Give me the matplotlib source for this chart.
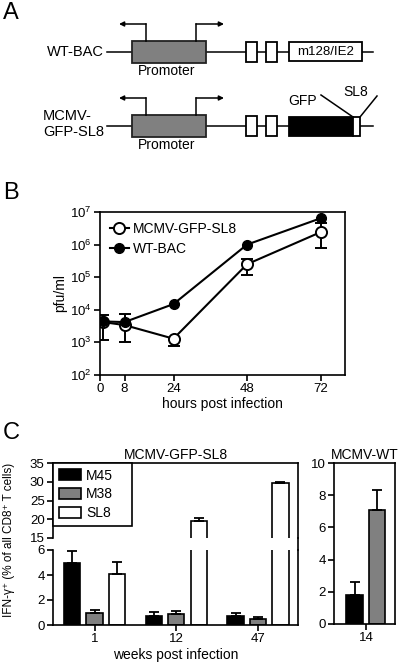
import matplotlib
matplotlib.use('Agg')
import matplotlib.pyplot as plt
from matplotlib.patches import Rectangle
from matplotlib.lines import Line2D
import numpy as np

plt.rcParams['font.family'] = ['Liberation Sans', 'DejaVu Sans']
plt.rcParams['font.size'] = 9.5
plt.rcParams['axes.linewidth'] = 1.2
plt.rcParams['xtick.major.width'] = 1.2
plt.rcParams['ytick.major.width'] = 1.2
plt.rcParams['xtick.major.size'] = 4
plt.rcParams['ytick.major.size'] = 4

# Panel B: virus growth (pfu/ml)
hours = [1, 8, 24, 48, 72]
hour_ticks = [0, 8, 24, 48, 72]
gfp_sl8 = [4.2e3, 3.4e3, 1.3e3, 2.5e5, 2.4e6]
gfp_sl8_lo = [1.2e3, 1.05e3, 8.0e2, 1.15e5, 7.8e5]
gfp_sl8_hi = [7.0e3, 7.6e3, 1.3e3, 3.7e5, 4.6e6]
wt_bac = [4.4e3, 4.2e3, 1.5e4, 1.0e6, 6.4e6]

# Panel C: IFN-gamma+ CD8 T cells
weeks = ['1', '12', '47']
m45 = [5.0, 0.75, 0.75]
m45_err = [0.9, 0.3, 0.25]
m38 = [1.0, 0.9, 0.5]
m38_err = [0.2, 0.25, 0.15]
sl8 = [4.1, 19.5, 29.6]
sl8_err = [0.95, 0.8, 0.4]

wt_weeks = ['14']
wt_m45 = [1.8]
wt_m45_err = [0.8]
wt_m38 = [7.1]
wt_m38_err = [1.2]

W, H = 400, 669
fig = plt.figure(figsize=(4, 6.69), dpi=100)


def pos(x0, y0, x1, y1):
    # pixel box -> figure fraction
    return [x0 / W, 1 - y1 / H, (x1 - x0) / W, (y1 - y0) / H]


# ---------- panel B ----------
axb = fig.add_axes(pos(100, 212, 345, 375))
axb.errorbar(hours, gfp_sl8,
             yerr=[np.array(gfp_sl8) - np.array(gfp_sl8_lo),
                   np.array(gfp_sl8_hi) - np.array(gfp_sl8)],
             color='black', lw=1.5, marker='o', ms=8, mfc='white', mec='black',
             mew=1.4, capsize=4.5, elinewidth=1.4, capthick=1.4, zorder=2)
axb.plot(hours, wt_bac, color='black', lw=1.5, marker='o', ms=7, zorder=3)
axb.set_yscale('log')
axb.set_ylim(1e2, 1e7)
axb.set_xlim(0, 80)
axb.set_xticks(hour_ticks)
axb.minorticks_off()
axb.set_ylabel('pfu/ml', fontsize=10, labelpad=2)
axb.set_xlabel('hours post infection', fontsize=10, labelpad=1)
axb.tick_params(labelsize=9.5, pad=2)
h_open = Line2D([], [], color='black', lw=1.5, marker='o', ms=8, mfc='white',
                mec='black', mew=1.4)
h_fill = Line2D([], [], color='black', lw=1.5, marker='o', ms=7)
axb.legend([h_open, h_fill], ['MCMV-GFP-SL8', 'WT-BAC'], loc='upper left',
           frameon=False, handlelength=1.4, handletextpad=0.3,
           borderaxespad=0.3, labelspacing=0.45, fontsize=10)

# ---------- panel C ----------
x = np.arange(len(weeks))
step, bw = 0.275, 0.2
ekw = dict(elinewidth=1.3, capthick=1.3, capsize=3.5, ecolor='black')

axt = fig.add_axes(pos(53, 463, 298, 538))
axl = fig.add_axes(pos(53, 550, 298, 625))
for ax in (axt, axl):
    ax.bar(x - step, m45, bw, color='black', edgecolor='black', lw=1.2,
           yerr=[[0] * 3, m45_err], error_kw=ekw, label='M45')
    ax.bar(x, m38, bw, color='#808080', edgecolor='black', lw=1.2,
           yerr=[[0] * 3, m38_err], error_kw=ekw, label='M38')
    ax.bar(x + step, sl8, bw, color='white', edgecolor='black', lw=1.2,
           yerr=[[0] * 3, sl8_err], error_kw=ekw, label='SL8')
    ax.set_xlim(-0.51, 2.49)
    ax.tick_params(labelsize=9.5, pad=2)

axt.set_ylim(15, 35)
axt.set_yticks([15, 20, 25, 30, 35])
axt.spines['bottom'].set_visible(False)
axt.set_xticks([])
axt.set_title('MCMV-GFP-SL8', fontsize=10, pad=3)
leg = axt.legend(loc='upper left', bbox_to_anchor=(0, 0, 79 / 245, 1),
                 mode='expand', borderaxespad=0,
                 fancybox=False, edgecolor='black', framealpha=1,
                 handlelength=1.6, handleheight=0.85, handletextpad=0.4,
                 labelspacing=0.35, fontsize=10, borderpad=0.4)
leg.get_frame().set_linewidth(1.2)

axl.set_ylim(0, 6)
axl.set_yticks([0, 2, 4, 6])
axl.spines['top'].set_visible(False)
axl.set_xticks(x)
axl.set_xticklabels(weeks)
axl.set_xlabel('weeks post infection', fontsize=10, labelpad=2)

# right spine continues across the axis break
fig.add_artist(Line2D([298 / W, 298 / W], [1 - 538 / H, 1 - 550 / H],
                      color='black', lw=1.2))

fig.text(9 / W, 1 - 540 / H, 'IFN-γ⁺ (% of all CD8⁺ T cells)', rotation=90,
         ha='center', va='center', fontsize=8.5)

axr = fig.add_axes(pos(334, 463, 395, 624))
xr = np.arange(len(wt_weeks))
axr.bar(xr - step / 2, wt_m45, bw, color='black', edgecolor='black', lw=1.2,
        yerr=[[0], wt_m45_err], error_kw=ekw)
axr.bar(xr + step / 2, wt_m38, bw, color='#808080', edgecolor='black', lw=1.2,
        yerr=[[0], wt_m38_err], error_kw=ekw)
axr.set_xlim(-0.39, 0.355)
axr.set_ylim(0, 10)
axr.set_yticks([0, 2, 4, 6, 8, 10])
axr.set_xticks(xr)
axr.set_xticklabels(wt_weeks)
axr.tick_params(labelsize=9.5, pad=2)
axr.set_title('MCMV-WT', fontsize=10, pad=3)

# ---------- panel A (schematic) + panel letters ----------
ov = fig.add_axes([0, 0, 1, 1], zorder=-1)
ov.set_xlim(0, W)
ov.set_ylim(H, 0)
ov.axis('off')

lw = 1.1
for yc in (52, 126):
    ov.plot([107, 373], [yc, yc], color='black', lw=lw, zorder=1)
    ov.add_patch(Rectangle((132, yc - 11), 74, 22, fc='#808080', ec='#222222',
                           lw=1.3, zorder=2))
    ov.text(167, yc + 19, 'Promoter', ha='center', va='center', fontsize=10)
    ytop = yc - 28
    ov.plot([146, 146], [yc - 11, ytop], color='black', lw=lw)
    ov.annotate('', xy=(119, ytop), xytext=(146, ytop),
                arrowprops=dict(arrowstyle='-|>', lw=lw, color='black',
                                mutation_scale=7, shrinkA=0, shrinkB=0))
    ov.plot([196, 196], [yc - 11, ytop], color='black', lw=lw)
    ov.annotate('', xy=(224, ytop), xytext=(196, ytop),
                arrowprops=dict(arrowstyle='-|>', lw=lw, color='black',
                                mutation_scale=7, shrinkA=0, shrinkB=0))
    ov.add_patch(Rectangle((246, yc - 10), 11, 20, fc='white', ec='black',
                           lw=1.3, zorder=2))
    ov.add_patch(Rectangle((266, yc - 10), 11, 20, fc='white', ec='black',
                           lw=1.3, zorder=2))

ov.text(104, 52, 'WT-BAC', ha='right', va='center', fontsize=10.5)
ov.add_patch(Rectangle((289, 42), 73, 19, fc='white', ec='black', lw=1.3, zorder=2))
ov.text(325.5, 52, 'm128/IE2', ha='center', va='center', fontsize=9.5)

ov.text(43, 124, 'MCMV-\nGFP-SL8', ha='left', va='center', fontsize=10.5,
        linespacing=1.15)
ov.add_patch(Rectangle((289, 117), 64, 19, fc='black', ec='black', lw=1.3, zorder=2))
ov.add_patch(Rectangle((353, 117), 7, 19, fc='white', ec='black', lw=1.3, zorder=2))
ov.plot([353, 321], [117, 95], color='black', lw=lw)
ov.plot([360, 377], [117, 96], color='black', lw=lw)
ov.text(303, 101, 'GFP', ha='center', va='center', fontsize=10)
ov.text(356, 92, 'SL8', ha='center', va='center', fontsize=10)

for lbl, (px, py) in {'A': (3, 13), 'B': (3, 193), 'C': (3, 433)}.items():
    ov.text(px, py, lbl, ha='left', va='center', fontsize=17)

fig.savefig('out.png', dpi=100)
